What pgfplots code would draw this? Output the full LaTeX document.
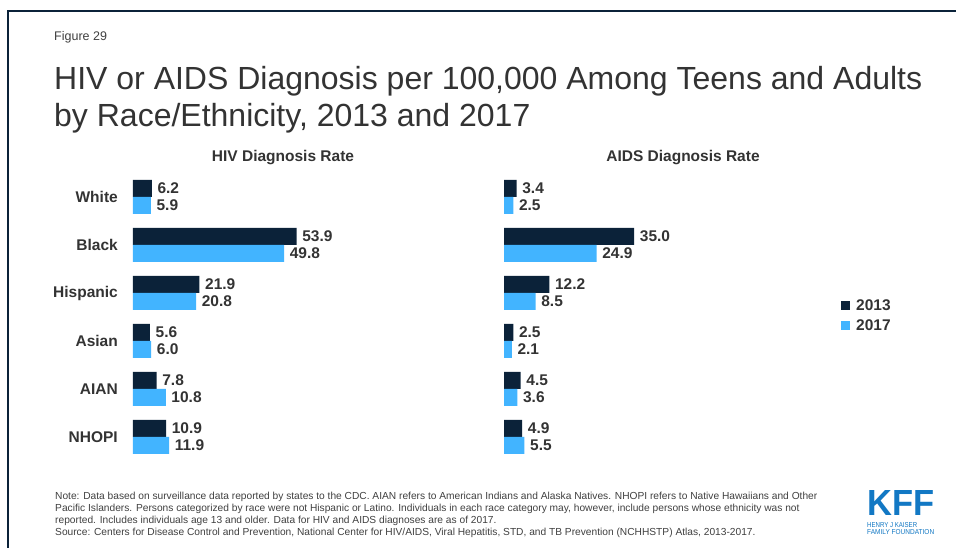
\documentclass[border=0pt]{standalone}
\usepackage{pgfplots}
\pgfplotsset{compat=1.18}
\usepackage{fontspec}
\setmainfont{Liberation Sans}
\definecolor{navy}{HTML}{0B2239}
\definecolor{sky}{HTML}{42B4FF}
\definecolor{txt}{HTML}{333333}
\definecolor{note}{HTML}{404040}
\definecolor{kff}{HTML}{1278C4}
\pgfplotsset{
  panel/.style={
    xbar, scale only axis, height=288pt,
    ymin=-0.5, ymax=5.5, xmin=0, enlargelimits=false,
    axis line style={draw=none}, major tick length=0pt,
    xtick=\empty, ytick={0,...,5},
    bar width=17pt, clip=false, anchor=south west,
    point meta=x,
    /pgf/number format/assume math mode=true,
    nodes near coords={\pgfmathprintnumber[fixed,fixed zerofill,precision=1]{\pgfplotspointmeta}},
    every node near coord/.append style={font=\fontsize{15.5}{18}\selectfont\bfseries, text=txt, anchor=west, inner sep=0pt, xshift=5.5pt},
    yticklabel style={font=\fontsize{15.5}{18}\selectfont\bfseries, text=txt, inner sep=0pt, anchor=east, xshift=-15pt},
  },
  y2013/.style={fill=navy, draw=none, bar shift=8.5pt},
  y2017/.style={fill=sky, draw=none, bar shift=-8.5pt},
}
\begin{document}
\begin{tikzpicture}[x=1pt,y=1pt]
\path[use as bounding box] (0,0) rectangle (956,548);
\fill[white] (0,0) rectangle (956,548);
\draw[navy, line width=2.2pt] (8,0) -- (8,537) -- (957,537);
\node[anchor=base west, inner sep=0pt, text=note, font=\fontsize{12.5}{15}\selectfont] at (54,548-41) {Figure 29};
\node[anchor=base west, inner sep=0pt, text=txt, font=\fontsize{32}{36}\selectfont] at (54,548-90) {HIV or AIDS Diagnosis per 100,000 Among Teens and Adults};
\node[anchor=base west, inner sep=0pt, text=txt, font=\fontsize{32}{36}\selectfont] at (54,548-127) {by Race/Ethnicity, 2013 and 2017};
\node[anchor=base, inner sep=0pt, text=txt, font=\fontsize{15.5}{18}\selectfont\bfseries] at (283,548-162) {HIV Diagnosis Rate};
\node[anchor=base, inner sep=0pt, text=txt, font=\fontsize{15.5}{18}\selectfont\bfseries] at (683,548-162) {AIDS Diagnosis Rate};

\begin{axis}[panel, at={(133pt,87pt)}, width=182.1pt, xmax=60,
  yticklabels={NHOPI,AIAN,Asian,Hispanic,Black,White}]
\addplot[y2013] coordinates {(6.2,5) (53.9,4) (21.9,3) (5.6,2) (7.8,1) (10.9,0)};
\addplot[y2017] coordinates {(5.9,5) (49.8,4) (20.8,3) (6.0,2) (10.8,1) (11.9,0)};
\end{axis}

\begin{axis}[panel, at={(504pt,87pt)}, width=148.8pt, xmax=40,
  yticklabels={},
  legend style={at={(2.265,0.569)}, anchor=north west, draw=none, fill=none,
    font=\fontsize{15.5}{18}\selectfont\bfseries, text=txt, inner sep=0pt, row sep=4pt, column sep=4pt},
  legend cell align=left,
  legend image code/.code={\fill[#1] (0pt,-4.5pt) rectangle (9pt,4.5pt);}]
\addplot[y2013] coordinates {(3.4,5) (35.0,4) (12.2,3) (2.5,2) (4.5,1) (4.9,0)};
\addplot[y2017] coordinates {(2.5,5) (24.9,4) (8.5,3) (2.1,2) (3.6,1) (5.5,0)};
\legend{2013,2017}
\end{axis}

\begin{scope}[font=\fontsize{10.2}{12}\selectfont, text=note]
\node[anchor=base west, inner sep=0pt] at (55,548-499.5) {Note: Data based on surveillance data reported by states to the CDC. AIAN refers to American Indians and Alaska Natives. NHOPI refers to Native Hawaiians and Other};
\node[anchor=base west, inner sep=0pt] at (55,548-511.5) {Pacific Islanders. Persons categorized by race were not Hispanic or Latino. Individuals in each race category may, however, include persons whose ethnicity was not};
\node[anchor=base west, inner sep=0pt] at (55,548-523.5) {reported. Includes individuals age 13 and older. Data for HIV and AIDS diagnoses are as of 2017.};
\node[anchor=base west, inner sep=0pt] at (55,548-535.5) {Source: Centers for Disease Control and Prevention, National Center for HIV/AIDS, Viral Hepatitis, STD, and TB Prevention (NCHHSTP) Atlas, 2013-2017.};
\end{scope}
\node[anchor=south west, inner sep=0pt, text=kff] at (867,548-516) {\resizebox{67pt}{25pt}{\bfseries KFF}};
\node[anchor=base west, inner sep=0pt, text=kff] at (867,548-527.5) {\resizebox{50pt}{5pt}{HENRY J KAISER}};
\node[anchor=base west, inner sep=0pt, text=kff] at (867,548-535) {\resizebox{67pt}{5pt}{FAMILY FOUNDATION}};
\end{tikzpicture}
\end{document}
